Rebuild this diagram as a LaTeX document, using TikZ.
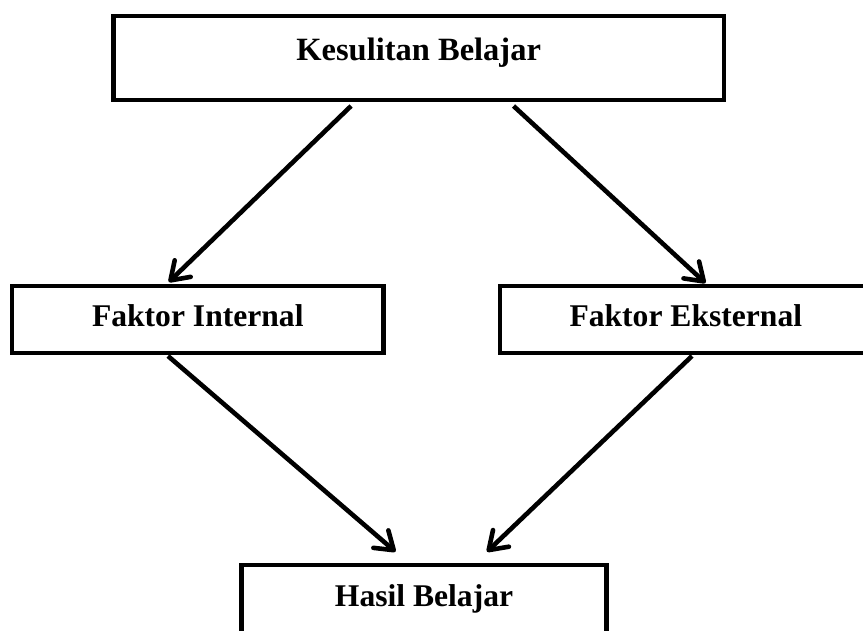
\documentclass[tikz,border=0pt]{standalone}
\usepackage{fontspec}
\setmainfont{Liberation Serif}
\usetikzlibrary{arrows.meta}
\begin{document}
\begin{tikzpicture}[x=1pt,y=-1pt,
  box/.style={draw=black, line width=4.5pt, rectangle, inner sep=0pt, outer sep=0pt,
    font=\fontsize{31.6}{36}\selectfont\bfseries, text height=22pt, text depth=7.6pt},
  conn/.style={line width=4.6pt, -{Straight Barb[length=17pt,width=23pt,round]}}]
\useasboundingbox (0,0) rectangle (863,630);
\fill[white] (0,0) rectangle (863,630);
\clip (0,0) rectangle (863,630);
\node[box, minimum width=610.7pt, minimum height=83.8pt,
  font=\fontsize{32.5}{38}\selectfont\bfseries, text height=22pt, text depth=18.2pt]
  (top) at (418.65,58.1) {Kesulitan Belajar};
\node[box, minimum width=371.6pt, minimum height=67pt] (int) at (197.8,319.5) {Faktor Internal};
\node[box, minimum width=371.6pt, minimum height=67pt] (ext) at (685.8,319.5) {Faktor Eksternal};
\node[box, minimum width=365.4pt, minimum height=80pt, text height=22pt, text depth=20pt]
  (res) at (424,605) {Hasil Belajar};
\draw[conn] ([xshift=-67.6pt,yshift=-6pt]top.south) -- ([xshift=-29pt,yshift=4pt]int.north);
\draw[conn] ([xshift=94.9pt,yshift=-6pt]top.south) -- ([xshift=19.7pt,yshift=3pt]ext.north);
\draw[conn] ([xshift=-29.8pt,yshift=-3pt]int.south) -- ([xshift=-28.5pt,yshift=13.3pt]res.north);
\draw[conn] ([xshift=6.2pt,yshift=-3pt]ext.south) -- ([xshift=63pt,yshift=13.3pt]res.north);
\end{tikzpicture}
\end{document}
